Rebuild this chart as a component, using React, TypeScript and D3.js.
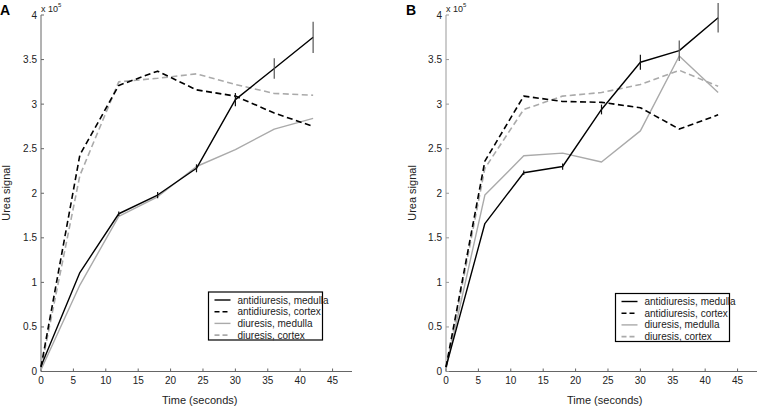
import React, { useEffect, useRef } from 'react';
import * as d3 from 'd3';

const times = [0, 6, 12, 18, 24, 30, 36, 42];
const seriesNames = ['antidiuresis, medulla', 'antidiuresis, cortex', 'diuresis, medulla', 'diuresis, cortex'];
const xTicks = [0, 5, 10, 15, 20, 25, 30, 35, 40, 45];
const yTicks = [0, 0.5, 1, 1.5, 2, 2.5, 3, 3.5, 4];

// panel A (values x 10^5)
const antiMedA = [0.06, 1.11, 1.77, 1.98, 2.28, 3.05, 3.4, 3.75];
const antiMedErrA = [0, 0, 0.01, 0.02, 0.03, 0.06, 0.1, 0.16];
const antiCortA = [0.05, 2.43, 3.21, 3.37, 3.16, 3.09, 2.9, 2.75];
const diuMedA = [0.02, 0.97, 1.74, 1.96, 2.3, 2.49, 2.72, 2.84];
const diuCortA = [0.03, 2.2, 3.25, 3.29, 3.34, 3.22, 3.12, 3.1];

// panel B
const antiMedB = [0.05, 1.66, 2.23, 2.3, 2.94, 3.47, 3.6, 3.97];
const antiMedErrB = [0, 0, 0.01, 0.02, 0.04, 0.07, 0.1, 0.15];
const antiCortB = [0.05, 2.36, 3.09, 3.03, 3.02, 2.96, 2.72, 2.88];
const diuMedB = [0.03, 1.98, 2.42, 2.45, 2.35, 2.7, 3.54, 3.13];
const diuCortB = [0.03, 2.28, 2.94, 3.09, 3.13, 3.22, 3.38, 3.2];

const styles = [
    { color: '#000', dash: null, width: 1.4 },
    { color: '#000', dash: '6,3.5', width: 1.6 },
    { color: '#aaa', dash: null, width: 1.4 },
    { color: '#aaa', dash: '6,3.5', width: 1.6 },
];

const font = '"Liberation Sans", Arial, sans-serif';

function Panel({ svgSel, left, letter, letterX, yTitleX, yAxisColor, series, err, legendX, legendY }) {
    const g = svgSel.append('g');
    const x = d3.scaleLinear().domain([0, 48]).range([left, left + 311]);
    const y = d3.scaleLinear().domain([0, 4]).range([371.5, 15]);

    // axes
    g.append('line').attr('x1', left).attr('x2', left).attr('y1', y(0)).attr('y2', y(4))
        .attr('stroke', yAxisColor).attr('stroke-width', 1);
    g.append('line').attr('x1', left).attr('x2', x(48)).attr('y1', y(0)).attr('y2', y(0))
        .attr('stroke', '#666').attr('stroke-width', 1);

    g.selectAll('.yt').data(yTicks).join('line')
        .attr('x1', left).attr('x2', left + 3).attr('y1', d => y(d)).attr('y2', d => y(d))
        .attr('stroke', yAxisColor);
    g.selectAll('.yl').data(yTicks).join('text')
        .attr('x', left - 4).attr('y', d => y(d) + 3.5)
        .attr('text-anchor', 'end').attr('font-size', 10).attr('font-family', font).attr('fill', '#222')
        .text(d => d3.format('~g')(d));

    g.selectAll('.xt').data(xTicks).join('line')
        .attr('x1', d => x(d)).attr('x2', d => x(d)).attr('y1', y(0)).attr('y2', y(0) - 3)
        .attr('stroke', '#666');
    g.selectAll('.xl').data(xTicks).join('text')
        .attr('x', d => x(d)).attr('y', y(0) + 12)
        .attr('text-anchor', 'middle').attr('font-size', 10).attr('font-family', font).attr('fill', '#222')
        .text(d => d);

    // exponent label
    const ex = g.append('text').attr('x', left).attr('y', 12).attr('font-size', 9).attr('font-family', font).attr('fill', '#222');
    ex.append('tspan').text('x 10');
    ex.append('tspan').attr('font-size', 6).attr('dy', -5).text('5');

    g.append('text').attr('x', letterX).attr('y', 15).attr('font-size', 14).attr('font-weight', 'bold')
        .attr('font-family', font).text(letter);

    g.append('text').attr('transform', `translate(${yTitleX},193) rotate(-90)`)
        .attr('text-anchor', 'middle').attr('font-size', 11).attr('font-family', font).attr('fill', '#222')
        .text('Urea signal');
    g.append('text').attr('x', x(24.5)).attr('y', 404)
        .attr('text-anchor', 'middle').attr('font-size', 11).attr('font-family', font).attr('fill', '#222')
        .text('Time (seconds)');

    const line = d3.line().x((d, i) => x(times[i])).y(d => y(d));
    // draw gray first, then black
    [3, 2, 1, 0].forEach(k => {
        const s = styles[k];
        g.append('path').attr('d', line(series[k])).attr('fill', 'none')
            .attr('stroke', s.color).attr('stroke-width', s.width)
            .attr('stroke-dasharray', s.dash).attr('stroke-linejoin', 'round');
    });

    g.selectAll('.eb').data(err).join('line')
        .attr('x1', (d, i) => x(times[i])).attr('x2', (d, i) => x(times[i]))
        .attr('y1', (d, i) => y(series[0][i] - d - 0.015)).attr('y2', (d, i) => y(series[0][i] + d + 0.015))
        .attr('stroke', (d, i) => i > 5 ? '#555' : '#111').attr('stroke-width', 1.2)
        .attr('visibility', d => d > 0 ? 'visible' : 'hidden');

    // legend
    const lg = g.append('g').attr('transform', `translate(${legendX},${legendY})`);
    lg.append('rect').attr('width', 114).attr('height', 48).attr('fill', '#fff')
        .attr('stroke', '#000').attr('stroke-width', 1.2);
    seriesNames.forEach((name, k) => {
        const s = styles[k];
        const yy = 8 + k * 11.7;
        lg.append('line').attr('x1', 6).attr('x2', 22).attr('y1', yy).attr('y2', yy)
            .attr('stroke', s.color).attr('stroke-width', s.width)
            .attr('stroke-dasharray', s.dash ? '5,3' : null);
        lg.append('text').attr('x', 29).attr('y', yy + 3.5).attr('font-size', 10)
            .attr('font-family', font).attr('fill', '#222').text(name);
    });
}

export default function App() {
    const svgRef = useRef(null);
    useEffect(() => {
        const svg = d3.select(svgRef.current);
        svg.selectAll('*').remove();
        Panel({
            svgSel: svg, left: 41, letter: 'A', letterX: 0, yTitleX: 10, yAxisColor: '#666',
            series: [antiMedA, antiCortA, diuMedA, diuCortA], err: antiMedErrA,
            legendX: 208.5, legendY: 292,
        });
        Panel({
            svgSel: svg, left: 446, letter: 'B', letterX: 406, yTitleX: 416, yAxisColor: '#999',
            series: [antiMedB, antiCortB, diuMedB, diuCortB], err: antiMedErrB,
            legendX: 615.5, legendY: 293.5,
        });
    }, []);

    return (
        <svg ref={svgRef} width={760} height={406}
            style={{ position: 'absolute', left: 0, top: 0, background: '#fff' }} />
    );
}
